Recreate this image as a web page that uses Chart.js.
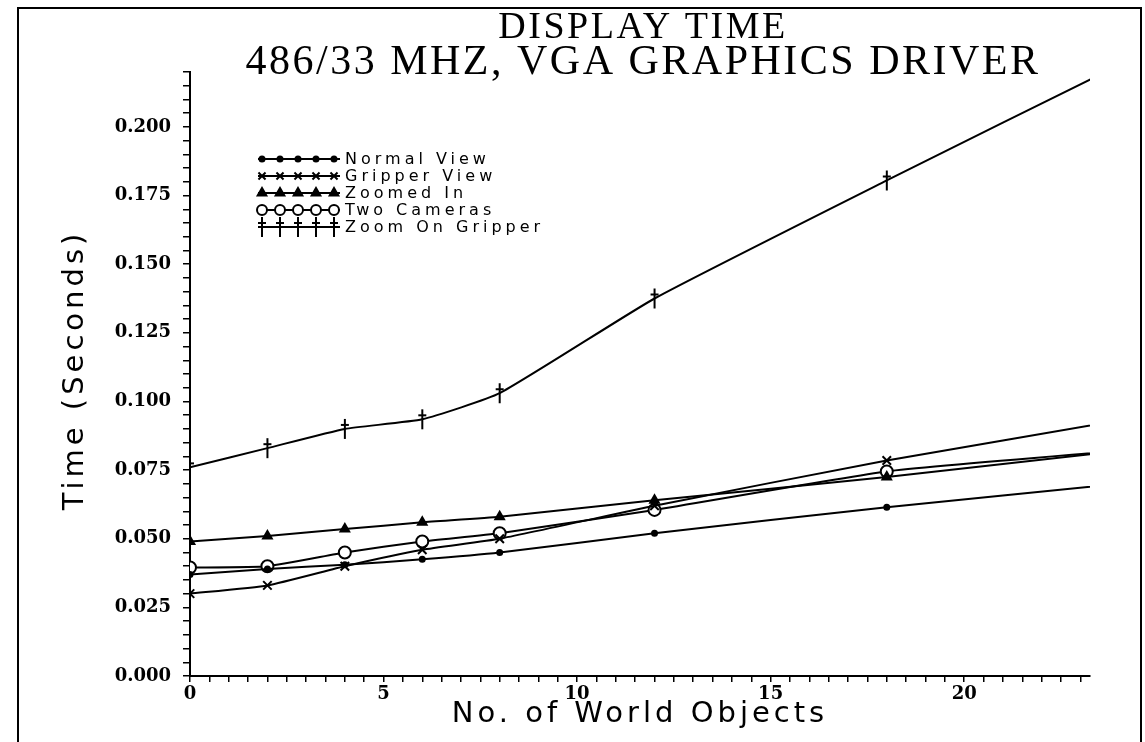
<!DOCTYPE html>
<html>
<head>
<meta charset="utf-8">
<script src="https://cdn.jsdelivr.net/npm/chart.js@4.4.1/dist/chart.umd.min.js"></script>
<style>
  html, body { margin: 0; padding: 0; background: #fff; }
  #wrap { position: relative; width: 1145px; height: 742px; overflow: hidden; }
  #frame { position: absolute; left: 17px; top: 7px; width: 1121px; height: 760px;
    border-top: 2px solid #000; border-left: 2px solid #000; border-right: 2px solid #000; }
  canvas { position: absolute; left: 0; top: 0; }
</style>
</head>
<body>
<div id="wrap">
  <div id="frame"></div>
  <canvas id="myChart" width="1145" height="742"></canvas>
</div>
<script>
var objects = [0, 2, 4, 6, 8, 12, 18, 24];
var normalView = [0.037, 0.039, 0.0405, 0.0425, 0.045, 0.052, 0.0615, 0.070];
var gripperView = [0.030, 0.033, 0.040, 0.046, 0.050, 0.062, 0.0785, 0.093];
var zoomedIn = [0.049, 0.051, 0.0535, 0.056, 0.058, 0.064, 0.0725, 0.082];
var twoCameras = [0.0395, 0.040, 0.045, 0.049, 0.052, 0.0605, 0.0745, 0.082];
var zoomOnGripper = [0.076, 0.083, 0.090, 0.0935, 0.103, 0.1375, 0.1805, 0.2225];

var seriesNames = ["Normal View", "Gripper View", "Zoomed In", "Two Cameras", "Zoom On Gripper"];
var titleLines = ["DISPLAY TIME", "486/33 MHZ, VGA GRAPHICS DRIVER"];
var xTitle = "No. of World Objects";
var yTitle = "Time (Seconds)";

function toPoints(values) {
  return objects.map(function (x, i) {
    return { x: x, y: values[i] };
  });
}

// dagger marker for "Zoom On Gripper"
var dagger = document.createElement("canvas");
dagger.width = 10;
dagger.height = 22;
(function () {
  var c = dagger.getContext("2d");
  c.strokeStyle = "#000";
  c.lineWidth = 2;
  c.beginPath();
  c.moveTo(5, 1); c.lineTo(5, 21);
  c.moveTo(1, 7); c.lineTo(9, 7);
  c.stroke();
})();

var black = "#000";
var lineStyle = {
  borderColor: black,
  borderWidth: 2,
  tension: 0.15,
  pointBorderColor: black,
  pointBorderWidth: 2,
};

var datasets = [
  Object.assign({ label: seriesNames[0], data: toPoints(normalView),
    pointStyle: "circle", pointRadius: 2.5, backgroundColor: black, pointBackgroundColor: black }, lineStyle),
  Object.assign({ label: seriesNames[1], data: toPoints(gripperView),
    pointStyle: "crossRot", pointRadius: 6, backgroundColor: black, pointBackgroundColor: black }, lineStyle),
  Object.assign({ label: seriesNames[2], data: toPoints(zoomedIn),
    pointStyle: "triangle", pointRadius: 5, backgroundColor: black, pointBackgroundColor: black }, lineStyle),
  Object.assign({ label: seriesNames[3], data: toPoints(twoCameras),
    pointStyle: "circle", pointRadius: 6, backgroundColor: "#fff", pointBackgroundColor: "#fff" }, lineStyle),
  Object.assign({ label: seriesNames[4], data: toPoints(zoomOnGripper),
    pointStyle: dagger, pointRadius: 6, backgroundColor: black, pointBackgroundColor: black }, lineStyle),
];

function isMultiple(v, step) {
  var r = v / step;
  return Math.abs(r - Math.round(r)) < 1e-6;
}

// titles, legend and axis titles drawn by hand (plotter look)
var textPlugin = {
  id: "plotterText",
  afterDraw: function (chart) {
    var ctx = chart.ctx;
    var area = chart.chartArea;
    ctx.save();
    ctx.fillStyle = black;
    ctx.strokeStyle = black;

    // main title
    ctx.textAlign = "center";
    ctx.textBaseline = "middle";
    ctx.letterSpacing = "2.5px";
    ctx.font = '38px "Liberation Serif", serif';
    ctx.fillText(titleLines[0], 643, 28);
    ctx.font = '42px "Liberation Serif", serif';
    ctx.fillText(titleLines[1], 643, 63);

    // axis titles
    ctx.font = '29px "DejaVu Sans", sans-serif';
    ctx.letterSpacing = "4px";
    ctx.fillText(xTitle, (area.left + area.right) / 2, 714);
    ctx.save();
    ctx.translate(75, (area.top + area.bottom) / 2 - 4);
    ctx.rotate(-Math.PI / 2);
    ctx.fillText(yTitle, 0, 0);
    ctx.restore();

    // legend
    ctx.textAlign = "left";
    ctx.font = '16px "DejaVu Sans", sans-serif';
    ctx.letterSpacing = "4px";
    var rowY = [159, 176, 193, 210, 227];
    chart.data.datasets.forEach(function (ds, i) {
      var y = rowY[i];
      ctx.lineWidth = 2;
      ctx.beginPath();
      ctx.moveTo(258, y);
      ctx.lineTo(340, y);
      ctx.stroke();
      for (var k = 0; k < 5; k++) {
        ctx.fillStyle = ds.pointBackgroundColor;
        ctx.strokeStyle = black;
        Chart.helpers.drawPoint(ctx, {
          pointStyle: ds.pointStyle,
          radius: Math.min(ds.pointRadius, 5),
          rotation: 0,
          borderWidth: 2,
        }, 262 + k * 18, y);
      }
      ctx.fillStyle = black;
      ctx.fillText(ds.label, 345, y + 1);
    });
    ctx.restore();
  },
};

var options = {
  responsive: false,
  animation: false,
  layout: {
    padding: { left: 57, right: 55, top: 72, bottom: 10 },
  },
  plugins: {
    legend: { display: false },
    title: { display: false },
    tooltip: { enabled: false },
  },
  scales: {
    x: {
      type: "linear",
      min: 0,
      max: 23.25,
      border: { color: black, width: 2 },
      grid: { drawOnChartArea: false, color: black, tickLength: 6, lineWidth: 1.5 },
      ticks: {
        stepSize: 0.5,
        includeBounds: false,
        autoSkip: false,
        maxRotation: 0,
        padding: 2,
        color: black,
        font: { family: '"DejaVu Serif", serif', weight: "bold", size: 18 },
        callback: function (v) {
          return isMultiple(v, 5) ? String(Math.round(v)) : "";
        },
      },
      afterFit: function (scale) {
        scale.height = 742 - 10 - 676;
      },
    },
    y: {
      min: 0,
      max: 0.22,
      border: { color: black, width: 2 },
      grid: { drawOnChartArea: false, color: black, tickLength: 7, lineWidth: 1.5 },
      ticks: {
        stepSize: 0.005,
        autoSkip: false,
        padding: 12,
        color: black,
        font: { family: '"DejaVu Serif", serif', weight: "bold", size: 18 },
        callback: function (v) {
          return isMultiple(v, 0.025) ? v.toFixed(3) : "";
        },
      },
      afterFit: function (scale) {
        scale.width = 190 - 57;
      },
    },
  },
};

new Chart("myChart", {
  type: "line",
  data: { datasets: datasets },
  options: options,
  plugins: [textPlugin],
});
</script>
</body>
</html>
